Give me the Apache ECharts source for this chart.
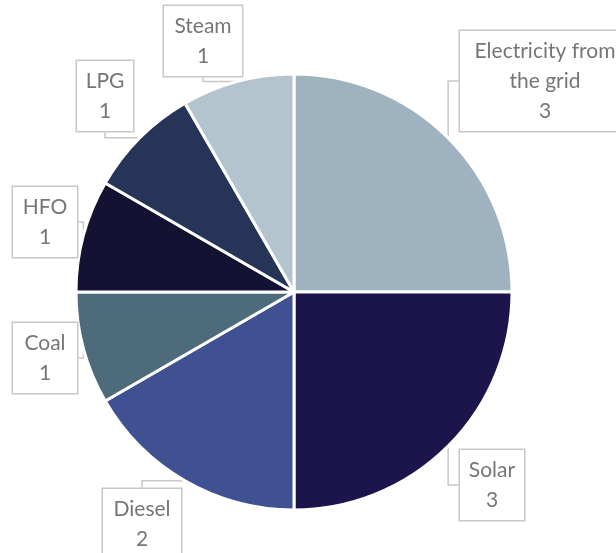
<!DOCTYPE html>
<html>
<head>
<meta charset="utf-8">
<script src="https://cdn.jsdelivr.net/npm/echarts@6/dist/echarts.min.js"></script>
<style>
  html, body { margin: 0; padding: 0; background: #fff; }
  #chart { width: 616px; height: 553px; }
</style>
</head>
<body>
<div id="chart"></div>
<script>
// Energy sources and counts
const categories = ['Electricity from the grid', 'Solar', 'Diesel', 'Coal', 'HFO', 'LPG', 'Steam'];
const counts = [3, 3, 2, 1, 1, 1, 1];
const sliceColors = ['#9eb2bf', '#1b154b', '#3f5190', '#4e6b7c', '#141233', '#253457', '#b4c4ce'];

// Callout centres and text widths for each slice label, in pixels
const calloutCentres = [
  [545, 81], [492, 485], [142, 524], [45, 358], [45, 222], [105, 96], [203, 41]
];
const calloutWidths = [150, 44, 58, 44, 44, 36, 58];

const chart = echarts.init(document.getElementById('chart'), null, { renderer: 'canvas' });

chart.setOption({
  animation: false,
  backgroundColor: '#ffffff',
  series: [{
    type: 'pie',
    center: [294, 292],
    radius: 218,
    startAngle: 90,
    clockwise: true,
    data: categories.map((name, i) => ({
      name: name,
      value: counts[i],
      itemStyle: { color: sliceColors[i] },
      label: { width: calloutWidths[i] }
    })),
    itemStyle: { borderColor: '#ffffff', borderWidth: 3 },
    label: {
      show: true,
      formatter: p => (p.name === 'Electricity from the grid' ? 'Electricity from\nthe grid' : p.name) + '\n' + p.value,
      fontFamily: 'Lato, "Open Sans", sans-serif',
      fontSize: 21,
      lineHeight: 30,
      color: '#767676',
      align: 'center',
      overflow: 'none',
      backgroundColor: '#ffffff',
      borderColor: '#c8c8c8',
      borderWidth: 1.5,
      padding: [5, 10]
    },
    labelLine: {
      show: true,
      lineStyle: { color: '#c8c8c8', width: 1.5 }
    },
    labelLayout: function (params) {
      const c = calloutCentres[params.dataIndex];
      return { x: c[0], y: c[1], align: 'center', verticalAlign: 'middle' };
    }
  }]
});
</script>
</body>
</html>
